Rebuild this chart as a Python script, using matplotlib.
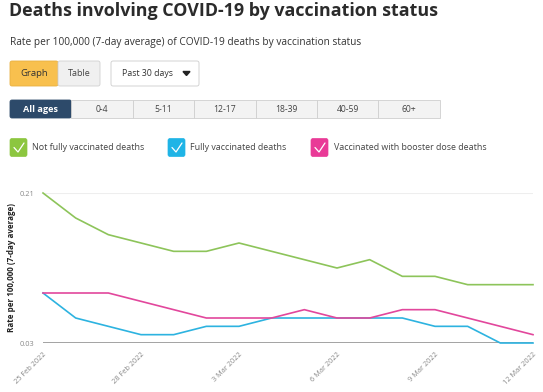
import numpy as np
import matplotlib
matplotlib.use('agg')
import matplotlib.pyplot as plt
from matplotlib.patches import FancyBboxPatch, Rectangle

plt.rcParams['font.family'] = ['Open Sans', 'DejaVu Sans']

# data
dates = ['25 Feb 2022', '26 Feb 2022', '27 Feb 2022', '28 Feb 2022', '1 Mar 2022',
         '2 Mar 2022', '3 Mar 2022', '4 Mar 2022', '5 Mar 2022', '6 Mar 2022',
         '7 Mar 2022', '8 Mar 2022', '9 Mar 2022', '10 Mar 2022', '11 Mar 2022',
         '12 Mar 2022']
not_fully = [0.21, 0.18, 0.16, 0.15, 0.14, 0.14, 0.15, 0.14, 0.13, 0.12,
             0.13, 0.11, 0.11, 0.10, 0.10, 0.10]
fully = [0.09, 0.06, 0.05, 0.04, 0.04, 0.05, 0.05, 0.06, 0.06, 0.06,
         0.06, 0.06, 0.05, 0.05, 0.03, 0.03]
booster = [0.09, 0.09, 0.09, 0.08, 0.07, 0.06, 0.06, 0.06, 0.07, 0.06,
           0.06, 0.07, 0.07, 0.06, 0.05, 0.04]
series_names = ['Not fully vaccinated deaths', 'Fully vaccinated deaths',
                'Vaccinated with booster dose deaths']
line_colors = ['#8dc45a', '#2db3e0', '#e2479c']
box_colors = ['#8cc63f', '#1fb4e6', '#e93a97']
age_tabs = ['All ages', '0-4', '5-11', '12-17', '18-39', '40-59', '60+']
yticks = [0.03, 0.21]
tick_every = 3

W, H = 543, 392
fig = plt.figure(figsize=(W / 100, H / 100), dpi=100)

# overlay in pixel coords for the page furniture
ui = fig.add_axes([0, 0, 1, 1])
ui.set_xlim(0, W)
ui.set_ylim(H, 0)
ui.axis('off')

ui.text(9, 11, 'Deaths involving COVID-19 by vaccination status', fontsize=12.9,
        fontweight='bold', color='#2b2b2b', va='center', ha='left')
ui.text(10, 42, 'Rate per 100,000 (7-day average) of COVID-19 deaths by vaccination status',
        fontsize=7.3, color='#333333', va='center', ha='left')

# graph / table buttons
ui.add_patch(FancyBboxPatch((10, 61), 48, 25, boxstyle='round,pad=0,rounding_size=2',
                            fc='#f8c04e', ec='#e8b040', lw=0.6))
ui.text(34, 73.5, 'Graph', fontsize=6.8, color='#333', ha='center', va='center')
ui.add_patch(FancyBboxPatch((58, 61), 42, 25, boxstyle='round,pad=0,rounding_size=2',
                            fc='#f0f0f0', ec='#d0d0d0', lw=0.6))
ui.text(79, 73.5, 'Table', fontsize=6.5, color='#444', ha='center', va='center')
ui.add_patch(FancyBboxPatch((111, 61), 88, 25, boxstyle='round,pad=0,rounding_size=2',
                            fc='white', ec='#cccccc', lw=0.6))
ui.text(122, 73.5, 'Past 30 days', fontsize=6.3, color='#333', ha='left', va='center')
ui.fill([183, 190, 186.5], [71.5, 71.5, 75.5], color='#222')

# age tabs
tab_w = 61.4
for i, lab in enumerate(age_tabs):
    x0 = 10 + i * tab_w
    if i == 0:
        ui.add_patch(FancyBboxPatch((x0, 100), tab_w, 18, boxstyle='round,pad=0,rounding_size=2',
                                    fc='#2d4a6a', ec='#2d4a6a', lw=0.6))
        ui.text(x0 + tab_w / 2, 109, lab, fontsize=6.6, color='white', fontweight='bold',
                ha='center', va='center')
    else:
        ui.add_patch(Rectangle((x0, 100), tab_w, 18, fc='#f3f3f3', ec='#cfcfcf', lw=0.6))
        ui.text(x0 + tab_w / 2, 109, lab, fontsize=6.2, color='#444',
                ha='center', va='center')

# legend with check boxes
leg_x = [10, 168, 311]
for x0, name, c in zip(leg_x, series_names, box_colors):
    ui.add_patch(FancyBboxPatch((x0, 138.5), 17, 18, boxstyle='round,pad=0,rounding_size=2',
                                fc=c, ec=c, lw=0.5))
    ui.plot([x0 + 4, x0 + 8, x0 + 14], [147.5, 152, 143], color='white', lw=0.9,
            solid_capstyle='round')
    ui.text(x0 + 22.5, 147.5, name, fontsize=6.4, color='#444', ha='left', va='center')

# chart
ax = fig.add_axes([43 / W, 49 / H, 490 / W, 150 / H])
x = np.arange(len(dates))
for vals, c in zip([not_fully, fully, booster], line_colors):
    ax.plot(x, vals, color=c, lw=1.2, zorder=3, clip_on=False)
ax.set_xlim(x[0], x[-1])
ax.set_ylim(yticks[0], yticks[-1])
ax.axhline(yticks[-1], color='#eeeeee', lw=0.8, zorder=1)
ax.axhline(yticks[0], color='#9a9a9a', lw=2, zorder=2)
for s in ax.spines.values():
    s.set_visible(False)
ax.set_yticks(yticks)
ax.set_yticklabels(['%.2f' % v for v in yticks])
ax.set_xticks(x[::tick_every])
ax.set_xticklabels(dates[::tick_every], rotation=45, ha='right', va='top',
                   rotation_mode='anchor')
ax.tick_params(axis='both', length=0, labelsize=5.3, labelcolor='#888888')
ax.tick_params(axis='x', pad=6)
ax.tick_params(axis='y', pad=6)
ax.set_ylabel('Rate per 100,000 (7-day average)', fontsize=5.8, fontweight='bold',
              color='#222222', labelpad=3)
ax.patch.set_alpha(0)

fig.savefig('out.png', dpi=100)
